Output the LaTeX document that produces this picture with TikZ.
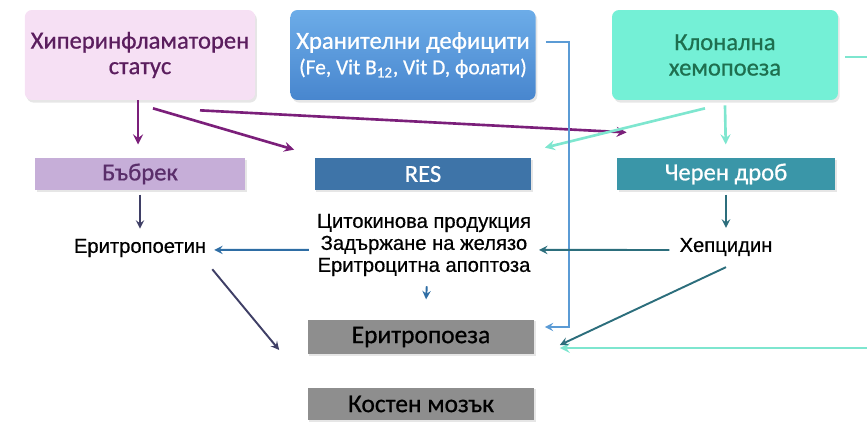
\documentclass[tikz,border=0pt]{standalone}
\usepackage{fontspec}
\setmainfont{Carlito}[FakeBold=0.7]
\newfontfamily\arialfont{Liberation Sans}[FakeBold=0.5]
\usetikzlibrary{positioning,shadows,arrows}
\definecolor{pinkfill}{HTML}{F6E0F4}
\definecolor{pinktext}{HTML}{5B1E5E}
\definecolor{purarr}{HTML}{7B1F7A}
\definecolor{nutrtop}{HTML}{6CACE8}
\definecolor{nutrbot}{HTML}{4886CE}
\definecolor{clonfill}{HTML}{74F0D6}
\definecolor{clontext}{HTML}{1E6F4F}
\definecolor{aquarr}{HTML}{7EE6CF}
\definecolor{kidfill}{HTML}{C6AED8}
\definecolor{kidtext}{HTML}{5A2E6A}
\definecolor{resfill}{HTML}{3E74A8}
\definecolor{liverfill}{HTML}{3A96A8}
\definecolor{marrowfill}{HTML}{8E8E8E}
\definecolor{slatearr}{HTML}{3F3F66}
\definecolor{bluearr}{HTML}{2E6DA4}
\definecolor{tealarr}{HTML}{2C6E7C}
\definecolor{nutrline}{HTML}{5B9BD5}

\begin{document}
\begin{tikzpicture}
	[x=0.02cm, y=-0.02cm, font=\fontsize{14}{14.5}\selectfont, >=stealth,
	bigbox/.style={rectangle, rounded corners=4pt, minimum height=1.8cm,
		minimum width=4.6cm, align=center,
		drop shadow={opacity=0.2, shadow xshift=1pt, shadow yshift=-1.5pt}},
	bar/.style={rectangle, minimum height=0.64cm, minimum width=4.3cm,
		drop shadow={opacity=0.2, shadow xshift=1pt, shadow yshift=-1pt}},
	graybar/.style={bar, minimum width=4.54cm, fill=marrowfill,
		font=\fontsize{14.5}{15}\selectfont},
	plain/.style={font=\arialfont\fontsize{11.5}{12.5}\selectfont, align=center},
	parr/.style={draw=purarr, line width=1.5pt, ->},
	aarr/.style={draw=aquarr, line width=1.5pt, ->},
	barr/.style={draw=bluearr, line width=1.1pt, ->},
	tarr/.style={draw=tealarr, line width=1.1pt, ->},
	sarr/.style={draw=slatearr, line width=1.1pt, ->},
	]
	\clip (0,0) rectangle (867,423);
	% top row
	\node[bigbox, fill=pinkfill, text=pinktext] (hyper) at (140,55)
		{Хиперинфламаторен\\статус};
	\node[bigbox, minimum width=4.9cm, top color=nutrtop, bottom color=nutrbot,
		text=white] (nutr) at (413,55)
		{Хранителни дефицити\\{\fontsize{12.2}{13}\selectfont (Fe, Vit B\textsubscript{12}, Vit D, фолати)}};
	\node[bigbox, minimum width=4.52cm, fill=clonfill, text=clontext] (clon) at (725,55)
		{Клонална\\хемопоеза};
	% organs
	\node[bar, minimum width=4.2cm, fill=kidfill, text=kidtext] (kidney) at (140,174) {Бъбрек};
	\node[bar, minimum width=4.34cm, fill=resfill, text=white] (res) at (423,174) {RES};
	\node[bar, minimum width=4.36cm, fill=liverfill, text=white] (liver) at (726,174) {Черен дроб};
	% mediators
	\node[plain] (epo) at (140,248) {Еритропоетин};
	\node[plain] (cyto) at (424,245) {Цитокинова продукция\\Задържане на желязо\\Еритроцитна апоптоза};
	\node[plain] (hep) at (726,247) {Хепцидин};
	% marrow
	\node[graybar, minimum height=0.7cm] (eritro) at (421,337) {Еритропоеза};
	\node[graybar, minimum height=0.66cm] (marrow) at (421,404) {Костен мозък};

	\draw[parr, shorten >=7.4pt] ([xshift=-1.1pt]hyper.south) -- ([xshift=-1.1pt]kidney.north);
	\draw[parr] ([shift={(13,8)}]hyper.south) -- ([shift={(-20,-8)}]res.north west);
	\draw[parr] ([shift={(60,10)}]hyper.south) -- ([shift={(10,-25)}]liver.north west);
	\draw[aarr] ([shift={(-20,8)}]clon.south) -- ([shift={(13,-10)}]res.north east);
	\draw[aarr, shorten >=7.4pt] ([shift={(0,5)}]clon.south) -- (liver.north);
	\draw[draw=nutrline, line width=1.1pt, ->] ([shift={(10,-13)}]nutr.east) -- ++(23,0)
		|- ([shift={(10,-10)}]eritro.east);
	\draw[aarr] ([shift={(7,2)}]clon.east) -- ++(40,0) |- ([shift={(25,11)}]eritro.east);
	\draw[sarr, shorten <=2.3pt, shorten >=2.3pt] (kidney.south) -- (epo.north);
	\draw[tarr, shorten <=2.3pt, shorten >=2.3pt] (liver.south) -- (hep.north);
	\draw[barr, shorten <=1.1pt, shorten >=1.1pt] ([yshift=-2.8pt]cyto.west) -- ([yshift=-1.1pt]epo.east);
	\draw[tarr, shorten <=2.3pt, shorten >=1.1pt] ([yshift=-1.7pt]hep.west) -- ([yshift=-2.8pt]cyto.east);
	\draw[barr, shorten <=2.3pt, shorten >=11.3pt] ([xshift=1.7pt]cyto.south) -- ([xshift=2.3pt]eritro.north);
	\draw[sarr] ([shift={(0,6)}]epo.south east) -- ([shift={(-28,13)}]eritro.west);
	\draw[tarr] ([shift={(0,5)}]hep.south) -- ([shift={(25,8)}]eritro.east);
\end{tikzpicture}
\end{document}
